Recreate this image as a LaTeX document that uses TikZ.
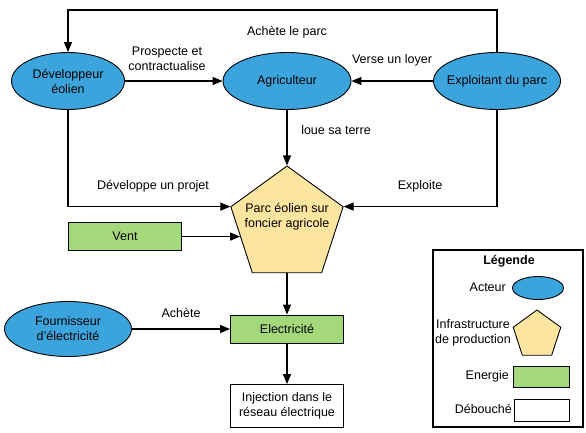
\documentclass[tikz,border=0pt]{standalone}
\usepackage{fontspec}
\setmainfont{Liberation Sans}
\usepackage{tikz}
\usetikzlibrary{calc}
\usetikzlibrary{positioning}
\usetikzlibrary{shapes.geometric}
\usetikzlibrary{arrows.meta}
\definecolor{bleuacteur}{RGB}{59,164,220}
\definecolor{jauneinfra}{RGB}{255,229,160}
\definecolor{vertenergie}{RGB}{163,217,122}
\tikzstyle{acteur} = [draw, ellipse, fill=bleuacteur, line width=0.9pt, inner sep=0pt, align=center]
\tikzstyle{infra} = [draw, regular polygon, regular polygon sides=5, fill=jauneinfra, line width=0.9pt, inner sep=0pt]
\tikzstyle{energie} = [draw, rectangle, fill=vertenergie, line width=0.9pt, align=center]
\tikzstyle{debouche} = [draw, rectangle, fill=white, line width=0.9pt, align=center]
\tikzstyle{fleche} = [-{Triangle[length=10pt,width=8pt]}, line width=1.2pt]
\tikzstyle{etiquette} = [align=center]

\begin{document}
\begin{tikzpicture}[x=1pt, y=-1pt, font=\fontsize{12.5}{15}\selectfont]
\useasboundingbox (0,0) rectangle (586,432);
% acteurs
\node[acteur, minimum width=113pt, minimum height=57pt] (devel) at (68,81) {Développeur\\éolien};
\node[acteur, minimum width=128pt, minimum height=57pt] (agri) at (287,81) {Agriculteur};
\node[acteur, minimum width=127pt, minimum height=57pt, inner xsep=-20pt] (expl) at (497,81) {Exploitant du parc};
\node[acteur, minimum width=127pt, minimum height=55pt] (fourn) at (68,329) {Fournisseur\\d'électricité};

% infrastructure, energie, debouche
\node[infra, minimum size=118pt] (parc) at (287,225) {};
\node[etiquette] (parctext) at (287,217) {Parc éolien sur\\foncier agricole};
\node[energie, minimum width=113pt, minimum height=28pt] (vent) at (125,236) {Vent};
\node[energie, minimum width=113pt, minimum height=28pt] (elec) at (287,329) {Electricité};
\node[debouche, minimum width=113pt, minimum height=43pt] (inj) at (287,406) {Injection dans le\\réseau électrique};
\coordinate (ventbout) at ($(parc.corner 2)!0.45!(parc.corner 3)$);

% liens
\draw[fleche] (expl.north) -- ++(0,-42) -| (devel.north);
\draw[fleche] (devel.east) -- (agri.west);
\draw[fleche] (expl.west) -- (agri.east);
\draw[fleche] (agri.south) -- (parc.corner 1);
\draw[fleche] (devel.south) |- (parc.corner 2);
\draw[fleche] (expl.south) |- (parc.corner 5);
\draw[fleche] (vent.east |- ventbout) -- (ventbout);
\draw[fleche] (parc.south) -- (elec.north);
\draw[fleche] (fourn.east) -- (elec.west);
\draw[fleche] (elec.south) -- (inj.north);

\node[etiquette] (lachete) at (287,32) {Achète le parc};
\node[etiquette] (lprosp) at (167,59) {Prospecte et\\contractualise};
\node[etiquette] (lverse) at (392,60) {Verse un loyer};
\node[etiquette] (lloue) at (336,130) {loue sa terre};
\node[etiquette] (ldev) at (153,186) {Développe un projet};
\node[etiquette] (lexpl) at (420,186) {Exploite};
\node[etiquette] (lachat) at (181,313) {Achète};

% legende
\node[draw, line width=1.2pt, minimum width=150pt, minimum height=177pt] (legende) at (508,338.5) {};
\node[font=\fontsize{12.5}{15}\selectfont\bfseries] (legtitre) at (509,261) {Légende};
\node[acteur, minimum width=51pt, minimum height=23pt] (legacteur) at (538,288) {};
\node[anchor=east, inner sep=0pt] (legacteurtxt) at (506,287) {Acteur};
\node[infra, minimum size=50pt] (leginfra) at (537,335) {};
\node[etiquette, inner sep=0pt] (leginfratxt) at (473,333) {Infrastructure\\de production};
\node[energie, minimum width=56pt, minimum height=21pt] (legenergie) at (541,377) {};
\node[anchor=east, inner sep=0pt] (legenergietxt) at (509,376) {Energie};
\node[debouche, minimum width=55pt, minimum height=22pt] (legdeb) at (541.5,410) {};
\node[anchor=east, inner sep=0pt] (legdebtxt) at (512,409) {Débouché};
\end{tikzpicture}
\end{document}
